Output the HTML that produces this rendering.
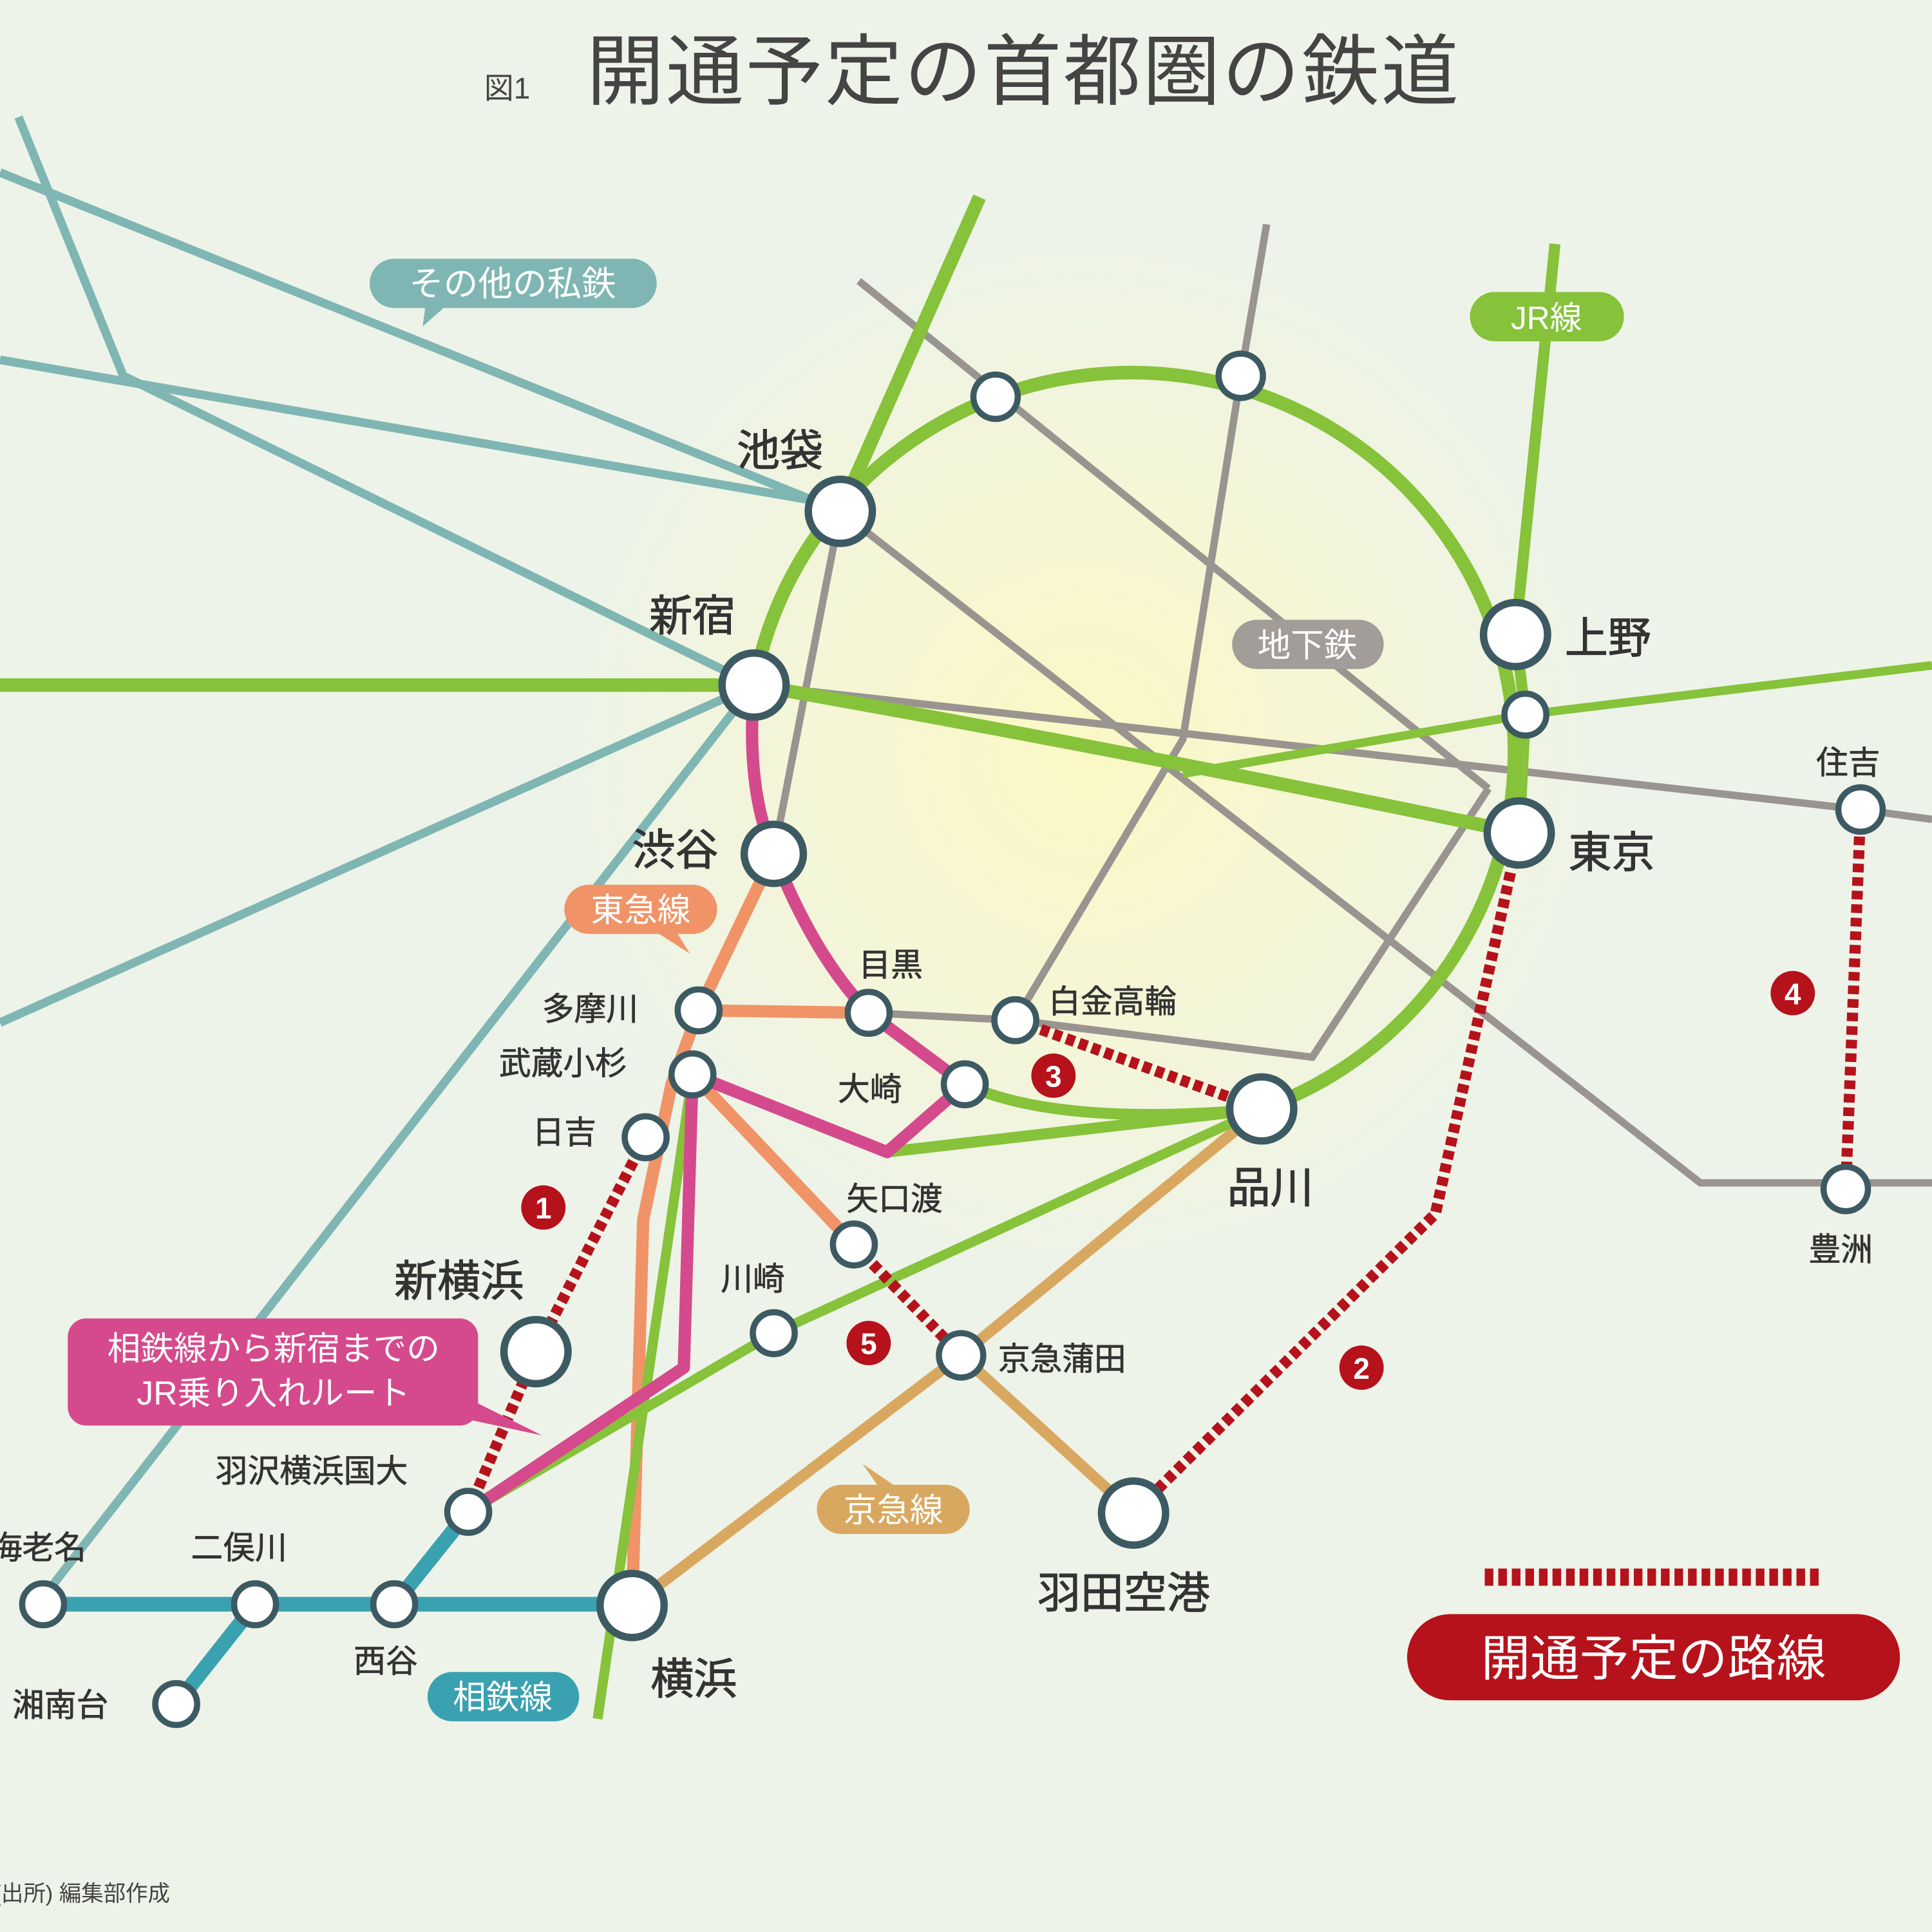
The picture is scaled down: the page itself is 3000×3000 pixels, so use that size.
<!DOCTYPE html>
<html><head><meta charset="utf-8"><style>
html,body{margin:0;padding:0;background:#edf3e8;}
svg{display:block}
text{font-family:"Liberation Sans","Noto Sans CJK JP",sans-serif;}
</style></head><body>
<svg width="3000" height="3000" viewBox="0 0 1568 1568" xmlns="http://www.w3.org/2000/svg">
<defs>
<radialGradient id="glow" cx="880" cy="610" r="420" gradientUnits="userSpaceOnUse">
<stop offset="0" stop-color="#fbf8c4"/>
<stop offset="0.5" stop-color="#f5f6d6"/>
<stop offset="1" stop-color="#edf3e8"/>
</radialGradient>
</defs>
<rect width="1568" height="1568" fill="#edf3e8"/>
<rect width="1568" height="1568" fill="url(#glow)"/>

<g stroke="#7fb6b3" stroke-width="7" fill="none">
<line x1="0" y1="140" x2="682" y2="415"/>
<line x1="0" y1="292" x2="682" y2="410"/>
<polyline points="15,95 100,305 612,556"/>
<line x1="0" y1="830" x2="612" y2="556"/>
<line x1="40" y1="1290" x2="612" y2="556"/>
</g>

<g stroke="#9a9490" stroke-width="6" fill="none">
<line x1="697" y1="228" x2="1208" y2="640"/>
<polyline points="705,822 824,828 1065,858 1208,640"/>
<polyline points="682,415 1380,960 1568,960"/>
<polyline points="1028,182 1007,305 960,600 824,828"/>
<line x1="682" y1="415" x2="628" y2="693"/>
<polyline points="612,556 1510,657 1568,665"/>
</g>

<g stroke="#d9a860" stroke-width="9" fill="none">
<polyline points="1024,900 780,1100 513,1303"/>
<line x1="780" y1="1100" x2="920" y2="1228"/>
</g>

<g stroke="#f09468" stroke-width="10" fill="none" stroke-linejoin="round">
<polyline points="628,693 567,820 545,880 522,990 513,1303"/>
<line x1="567" y1="820" x2="705" y2="822"/>
<line x1="562" y1="872" x2="693" y2="1010"/>
</g>

<g stroke="#86c23a" fill="none" stroke-linecap="butt" stroke-linejoin="round">
<path d="M612,556 A311,308 0 1 1 1024,900" stroke-width="11"/>
<line x1="682" y1="415" x2="795" y2="160" stroke-width="11"/>
<line x1="0" y1="556" x2="612" y2="556" stroke-width="11"/>
<path d="M612,556 Q920,610 1233,676" stroke-width="11"/>
<polyline points="1568,540 1238,580 960,628" stroke-width="7"/>
<polyline points="1262,198 1230,515 1238,580 1233,676" stroke-width="9"/>
<path d="M1024,900 Q860,915 783,880" stroke-width="9"/>
<polyline points="1024,900 720,935 562,872" stroke-width="9"/>
<polyline points="1024,900 628,1082 380,1227" stroke-width="8"/>
<line x1="562" y1="872" x2="485" y2="1395" stroke-width="8"/>
</g>

<path d="M612,556 Q605,640 628,693 Q660,775 705,822 L783,880 L720,935 L562,872 L555,1110 L380,1227" stroke="#d54a8c" stroke-width="10" fill="none" stroke-linejoin="round"/>

<g stroke="#3aa1b1" stroke-width="12" fill="none" stroke-linejoin="round">
<line x1="35" y1="1302" x2="513" y2="1302"/>
<line x1="207" y1="1302" x2="143" y2="1383"/>
<line x1="320" y1="1302" x2="380" y2="1227"/>
</g>

<g stroke="#b5121b" stroke-width="9" fill="none" stroke-dasharray="7,4">
<polyline points="524,923 435,1097 380,1227"/>
<polyline points="1233,676 1165,985 920,1228"/>
<line x1="824" y1="828" x2="1024" y2="900"/>
<line x1="1510" y1="657" x2="1498" y2="965"/>
<line x1="693" y1="1010" x2="780" y2="1100"/>
<line x1="1205" y1="1280" x2="1478" y2="1280" stroke-width="14"/>
</g>

<g fill="#fff" stroke="#3d5a63">
<g stroke-width="6">
<circle cx="682" cy="415" r="26"/><circle cx="612" cy="556" r="26"/><circle cx="628" cy="693" r="24"/>
<circle cx="1230" cy="515" r="26"/><circle cx="1233" cy="676" r="26"/><circle cx="1024" cy="900" r="26"/>
<circle cx="435" cy="1097" r="26"/><circle cx="513" cy="1303" r="26"/><circle cx="920" cy="1228" r="26"/>
</g>
<g stroke-width="5">
<circle cx="808" cy="322" r="18"/><circle cx="1007" cy="305" r="18"/><circle cx="1238" cy="580" r="17"/>
<circle cx="1510" cy="657" r="18"/><circle cx="1498" cy="965" r="18"/>
<circle cx="567" cy="820" r="17"/><circle cx="705" cy="822" r="17"/><circle cx="824" cy="828" r="17"/>
<circle cx="562" cy="872" r="17"/><circle cx="783" cy="880" r="17"/><circle cx="524" cy="923" r="17"/>
<circle cx="693" cy="1010" r="17"/><circle cx="628" cy="1082" r="17"/><circle cx="780" cy="1100" r="18"/>
<circle cx="380" cy="1227" r="17"/><circle cx="35" cy="1302" r="17"/><circle cx="207" cy="1302" r="17"/>
<circle cx="320" cy="1302" r="17"/><circle cx="143" cy="1383" r="17"/>
</g>
</g>

<g fill="#b5121b">
<circle cx="441" cy="980" r="18"/><circle cx="1105" cy="1110" r="18"/><circle cx="855" cy="873" r="18"/>
<circle cx="1455" cy="806" r="18"/><circle cx="705" cy="1090" r="18"/>
</g>
<g fill="#fff" font-size="24" font-weight="bold" text-anchor="middle">
<text x="441" y="989">1</text><text x="1105" y="1119">2</text><text x="855" y="882">3</text>
<text x="1455" y="815">4</text><text x="705" y="1099">5</text>
</g>

<text x="393" y="80" font-size="24" fill="#444">図1</text>
<text x="476" y="80" font-size="63" fill="#444" letter-spacing="1.5">開通予定の首都圏の鉄道</text>

<path d="M320,210 H513 a20,20 0 0 1 0,40 H360 L343,265 L345,250 H320 a20,20 0 0 1 0,-40z" fill="#7fb6b3"/>
<text x="416" y="240" font-size="28" fill="#fff" text-anchor="middle">その他の私鉄</text>
<rect x="1193" y="237" width="125" height="40" rx="20" fill="#86c23a"/>
<text x="1255" y="267" font-size="26" fill="#fff" text-anchor="middle">JR線</text>
<rect x="1000" y="503" width="123" height="40" rx="20" fill="#a39d99"/>
<text x="1061" y="533" font-size="27" fill="#fff" text-anchor="middle">地下鉄</text>
<path d="M478,718 H562 a20,20 0 0 1 0,40 H550 L560,774 L535,758 H478 a20,20 0 0 1 0,-40z" fill="#f09468"/>
<text x="520" y="748" font-size="27" fill="#fff" text-anchor="middle">東急線</text>
<path d="M683,1205 H712 L700,1188 L725,1205 H767 a20,20 0 0 1 0,40 H683 a20,20 0 0 1 0,-40z" fill="#d9a860"/>
<text x="725" y="1235" font-size="27" fill="#fff" text-anchor="middle">京急線</text>
<rect x="347" y="1357" width="123" height="40" rx="20" fill="#3aa1b1"/>
<text x="408" y="1387" font-size="27" fill="#fff" text-anchor="middle">相鉄線</text>
<rect x="55" y="1070" width="333" height="87" rx="15" fill="#d54a8c"/>
<path d="M380,1135 L440,1165 L380,1152z" fill="#d54a8c"/>
<text x="222" y="1104" font-size="27" fill="#fff" text-anchor="middle">相鉄線から新宿までの</text>
<text x="222" y="1140" font-size="27" fill="#fff" text-anchor="middle">JR乗り入れルート</text>
<rect x="1142" y="1310" width="400" height="70" rx="35" fill="#b5121b"/>
<text x="1342" y="1360" font-size="40" fill="#fff" text-anchor="middle">開通予定の路線</text>

<g fill="#333" font-size="35" stroke="#333" stroke-width="0.6">
<text x="598" y="378">池袋</text>
<text x="527" y="512">新宿</text>
<text x="513" y="702">渋谷</text>
<text x="1270" y="530">上野</text>
<text x="1273" y="704">東京</text>
<text x="996" y="976">品川</text>
<text x="320" y="1052">新横浜</text>
<text x="528" y="1375">横浜</text>
<text x="842" y="1305">羽田空港</text>
</g>
<g fill="#333" font-size="26" stroke="#333" stroke-width="0.4">
<text x="697" y="792">目黒</text>
<text x="851" y="822">白金高輪</text>
<text x="440" y="828">多摩川</text>
<text x="405" y="872">武蔵小杉</text>
<text x="680" y="893">大崎</text>
<text x="432" y="928">日吉</text>
<text x="687" y="982">矢口渡</text>
<text x="585" y="1047">川崎</text>
<text x="810" y="1112">京急蒲田</text>
<text x="175" y="1203">羽沢横浜国大</text>
<text x="-8" y="1265">海老名</text>
<text x="155" y="1265">二俣川</text>
<text x="287" y="1357">西谷</text>
<text x="10" y="1393">湘南台</text>
<text x="1474" y="628">住吉</text>
<text x="1468" y="1023">豊洲</text>
</g>
<text x="-5" y="1543" font-size="18" fill="#444">(出所) 編集部作成</text>
</svg>
</body></html>
